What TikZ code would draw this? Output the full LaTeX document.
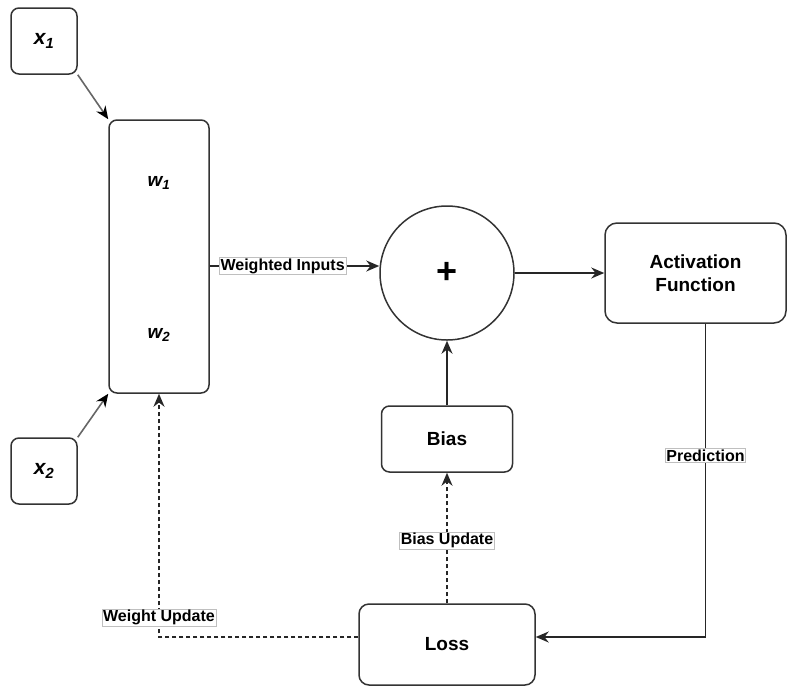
\documentclass[tikz,border=0pt]{standalone}
\usepackage{fontspec}
\setmainfont{Liberation Sans}
\usetikzlibrary{arrows.meta}
\tikzset{
  box/.style={draw=black!80,line width=1.5pt,rounded corners=8pt,align=center,font=\fontsize{19}{23}\selectfont\bfseries},
  wlbl/.style={font=\fontsize{19}{23}\selectfont\bfseries\itshape},
  lbl/.style={draw=black!25,solid,line width=0.7pt,fill=white,inner sep=1.2pt,font=\fontsize{16}{18}\selectfont\bfseries},
  arr/.style={-{Stealth[length=13pt,width=11pt]},line width=1.5pt,draw=black!85},
  inarr/.style={-{Stealth[length=13pt,width=11pt,color=black]},line width=1.6pt,draw=black!60},
  upd/.style={arr,dash pattern=on 4pt off 3pt}
}
\begin{document}
\begin{tikzpicture}[x=1pt,y=-1pt]
\useasboundingbox (0,0) rectangle (795,686);
\foreach \i/\y in {1/41,2/471}{\node[box,minimum size=66pt,font=\fontsize{21}{23}\selectfont\bfseries\itshape](x\i) at (44,\y){x\textsubscript{\i}};}
\node[box,minimum width=100pt,minimum height=273pt](w) at (159,256.5){};
\foreach \i/\y in {1/183,2/335}{\node[wlbl](w\i) at (159,\y){w\textsubscript{\i}};}
\node[draw=black!80,line width=1.5pt,circle,minimum size=134pt,inner sep=0pt,font=\fontsize{36}{36}\selectfont\bfseries](sum) at (447,273){+};
\node[box,minimum width=181pt,minimum height=100pt,rounded corners=12pt](act) at (695.5,273){Activation\\Function};
\node[box,minimum width=131pt,minimum height=66pt](bias) at (447,439){Bias};
\node[box,minimum width=176pt,minimum height=81pt,rounded corners=10pt](loss) at (447,644.5){Loss};
\coordinate (wi) at ([yshift=-9.5pt]w.east);
\coordinate (pr) at ([xshift=10pt]act.south);
\coordinate (le) at ([yshift=7.5pt]loss.east);
\coordinate (lw) at ([yshift=7.5pt]loss.west);
\foreach \i/\a/\b in {1/south east/north west,2/north east/south west}{\draw[inarr](x\i.\a)--(w.\b);}
\draw[arr](wi)--node[lbl,pos=0.43]{Weighted Inputs}(wi -| sum.west);
\draw[arr](sum.east)--(act.west);
\draw[arr](bias.north)--(sum.south);
\draw[arr](pr)|-node[lbl,pos=0.21]{Prediction}(le);
\draw[upd](loss.north)--node[lbl,pos=0.48]{Bias Update}(bias.south);
\draw[upd](lw)-|node[lbl,pos=0.54]{Weight Update}(w.south);
\end{tikzpicture}
\end{document}
